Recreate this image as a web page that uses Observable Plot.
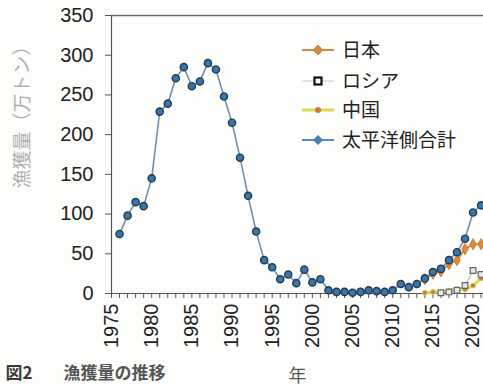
<!DOCTYPE html>
<html><head><meta charset="utf-8">
<script src="https://cdn.jsdelivr.net/npm/d3@7"></script>
<script src="https://cdn.jsdelivr.net/npm/@observablehq/plot@0.6"></script>
<style>
html,body{margin:0;padding:0;background:#fdfdfb;overflow:hidden;}
#chart{position:relative;width:483px;height:387px;}
</style></head><body><div id="chart"></div>
<script>
// ---- data (万トン) ----
const years = [1976,1977,1978,1979,1980,1981,1982,1983,1984,1985,1986,1987,1988,1989,1990,
  1991,1992,1993,1994,1995,1996,1997,1998,1999,2000,2001,2002,2003,2004,2005,2006,2007,2008,
  2009,2010,2011,2012,2013,2014,2015,2016,2017,2018,2019,2020,2021];
const total = [75,98,115,110,145,229,239,271,285,261,267,290,282,248,215,
  171,123,78,42,33,18,24,13,30,14,18,4,2,2,1,2,4,3,
  2,4,12,8,12,19,27,31,42,52,69,102,111];
const japanYears = [2014,2015,2016,2017,2018,2019,2020,2021];
const japan = [18,25,28,37,42,56,62,62];
const russiaYears = [2016,2017,2018,2019,2020,2021];
const russia = [1,2,4,10,29,24];
const chinaYears = [2014,2015,2016,2017,2018,2019,2020,2021];
const china = [1,2,2,3,6,5,10,19];
const yTicks = [0,50,100,150,200,250,300,350];
const xLabelYears = [1975,1980,1985,1990,1995,2000,2005,2010,2015,2020];
const legendLabels = ["日本","ロシア","中国","太平洋側合計"];
const yTitle = "漁獲量（万トン）";
const xTitle = "年";
const captionNo = "図2";
const captionText = "漁獲量の推移";

const toRows = (xs, vs) => xs.map((year, i) => ({year, value: vs[i]}));
const totalData = toRows(years, total);
const japanData = toRows(japanYears, japan);
const russiaData = toRows(russiaYears, russia);
const chinaData = toRows(chinaYears, china);
const minorTicks = d3.range(1975, 2022);

const C = {
  totalLine: "#7191b2", totalFill: "#3d74a3", totalStroke: "#1f3b58",
  japan: "#e08a3c", japanLegend: "#c98a4b",
  russiaLine: "#c8c8c8", russiaMark: "#555",
  chinaLine: "#d9dc52", chinaMark: "#c27f42"
};
const numFont = "'Liberation Sans', Arial, sans-serif";
const jpFont = "'Noto Sans CJK JP', 'Noto Sans', sans-serif";

const plot = Plot.plot({
  width: 483, height: 387,
  marginLeft: 111, marginRight: 0, marginTop: 15, marginBottom: 94,
  style: {background: "#fdfdfb", fontFamily: numFont, overflow: "hidden"},
  x: {domain: [1975, 2021.3]},
  y: {domain: [0, 350]},
  marks: [
    Plot.ruleY([350], {stroke: "#6a6a6a", strokeWidth: 1.5, x1: 1975, x2: 2021.3}),
    Plot.axisY({ticks: yTicks, tickSize: 6, tickPadding: 12, fontSize: 20, label: null, stroke: "#555", fill: "#222"}),
    Plot.axisX({ticks: minorTicks, tickSize: 5, tickFormat: () => "", label: null, stroke: "#555"}),
    Plot.ruleX([1975], {stroke: "#555", strokeWidth: 1.2}),
    Plot.ruleY([0], {stroke: "#555", strokeWidth: 1.2}),
    Plot.text(xLabelYears, {x: d => d, frameAnchor: "bottom", rotate: -90, textAnchor: "end", lineAnchor: "middle", dy: 10, fontSize: 20, fill: "#222", text: d => String(d)}),
    // China
    Plot.line(chinaData, {x: "year", y: "value", stroke: C.chinaLine, strokeWidth: 3}),
    Plot.dot(chinaData, {x: "year", y: "value", r: 2.5, fill: C.chinaMark, stroke: C.chinaLine, strokeWidth: 0.8}),
    // Russia
    Plot.line(russiaData, {x: "year", y: "value", stroke: C.russiaLine, strokeWidth: 1.5}),
    Plot.dot(russiaData, {x: "year", y: "value", symbol: "square", r: 3.2, fill: "#e8e8e8", stroke: "#666", strokeWidth: 1.2}),
    // Japan
    Plot.line(japanData, {x: "year", y: "value", stroke: C.japan, strokeWidth: 2}),
    Plot.dot(japanData, {x: "year", y: "value", symbol: "diamond", r: 3.4, fill: C.japan, stroke: "#c06e28", strokeWidth: 0.8}),
    // Total
    Plot.line(totalData, {x: "year", y: "value", stroke: C.totalLine, strokeWidth: 1.6}),
    Plot.dot(totalData, {x: "year", y: "value", r: 3.6, fill: C.totalFill, stroke: C.totalStroke, strokeWidth: 1.4}),
    // titles
    Plot.text([yTitle], {frameAnchor: "left", rotate: -90, dx: -89, dy: 34, fontSize: 19, fill: "#b0b0b0", fontFamily: jpFont}),
    Plot.text([xTitle], {frameAnchor: "bottom", dy: 88, fontSize: 18, fill: "#555", fontFamily: jpFont}),
    Plot.text([captionNo], {frameAnchor: "bottom-left", dx: -106, dy: 85, textAnchor: "start", fontSize: 17, fontWeight: "bold", fill: "#3a3a3a", fontFamily: jpFont}),
    Plot.text([captionText], {frameAnchor: "bottom-left", dx: -48, dy: 85, textAnchor: "start", fontSize: 17, fontWeight: "bold", fill: "#555", fontFamily: jpFont})
  ]
});
document.getElementById("chart").appendChild(plot);

// ---- legend (inside the plot area, top right) ----
const svg = d3.select(plot);
const lg = svg.append("g").attr("text-anchor", "start");
const rowsY = [50, 81, 110, 140];
const x0 = 302, x1 = 334, xm = 318, xt = 342;
const legendStyles = [
  {line: C.japanLegend, lw: 2, sym: "diamond", fill: C.japanLegend, stroke: C.japanLegend, r: 5},
  {line: "#d8d8d8", lw: 1.5, sym: "square", fill: "#fff", stroke: "#111", r: 3.5},
  {line: C.chinaLine, lw: 3, sym: "circle", fill: C.chinaMark, stroke: C.chinaMark, r: 3},
  {line: "#5a8ab8", lw: 2, sym: "diamond", fill: "#4a7fb2", stroke: "#4a7fb2", r: 4.5}
];
legendLabels.forEach((lab, i) => {
  const s = legendStyles[i], y = rowsY[i];
  lg.append("line").attr("x1", x0).attr("x2", x1).attr("y1", y).attr("y2", y)
    .attr("stroke", s.line).attr("stroke-width", s.lw);
  if (s.sym === "diamond") {
    lg.append("path").attr("d", `M${xm},${y - s.r}L${xm + s.r},${y}L${xm},${y + s.r}L${xm - s.r},${y}Z`)
      .attr("fill", s.fill).attr("stroke", s.stroke);
  } else if (s.sym === "square") {
    lg.append("rect").attr("x", xm - s.r).attr("y", y - s.r).attr("width", 2 * s.r).attr("height", 2 * s.r)
      .attr("fill", s.fill).attr("stroke", s.stroke).attr("stroke-width", 2.2);
  } else {
    lg.append("circle").attr("cx", xm).attr("cy", y).attr("r", s.r).attr("fill", s.fill);
  }
  lg.append("text").attr("x", xt).attr("y", y).attr("dy", "0.35em").attr("text-anchor", "start")
    .attr("font-family", jpFont).attr("font-size", 19).attr("fill", "#222")
    .text(lab);
});
</script></body></html>
